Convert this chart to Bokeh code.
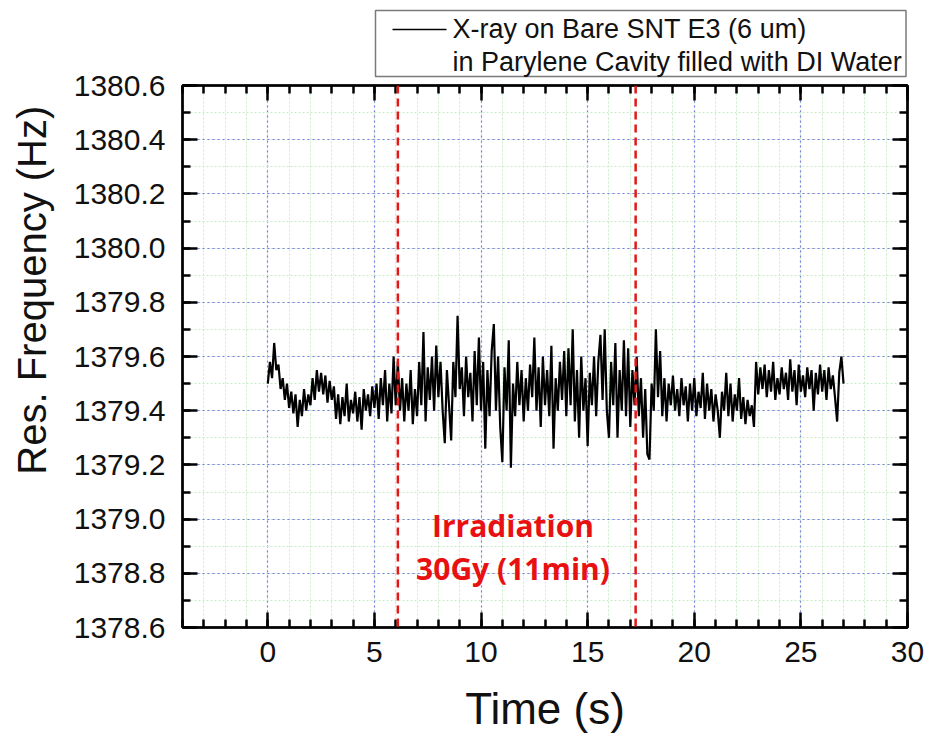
import numpy as np
from bokeh.plotting import figure
from bokeh.layouts import row, column
from bokeh.models import (Range1d, FixedTicker, LinearAxis, PrintfTickFormatter, Span)
from bokeh.core.properties import value
from bokeh.embed import file_html
from bokeh.resources import INLINE

# ---- data ----
t_step = 0.1
freq_before = [  # t = 0.0 .. 5.9 s
    1379.50, 1379.58, 1379.52, 1379.65, 1379.55, 1379.57, 1379.48, 1379.52, 1379.44, 1379.50,
    1379.41, 1379.47, 1379.39, 1379.46, 1379.34, 1379.44, 1379.38, 1379.48, 1379.40, 1379.46,
    1379.42, 1379.52, 1379.44, 1379.55, 1379.47, 1379.54, 1379.46, 1379.53, 1379.43, 1379.51,
    1379.44, 1379.49, 1379.37, 1379.46, 1379.35, 1379.45, 1379.38, 1379.50, 1379.36, 1379.44,
    1379.39, 1379.47, 1379.36, 1379.45, 1379.33, 1379.48, 1379.40, 1379.46, 1379.38, 1379.49,
    1379.41, 1379.50, 1379.37, 1379.52, 1379.42, 1379.55, 1379.36, 1379.50, 1379.39, 1379.60,
]
freq_during = [  # t = 6.0 .. 17.2 s
    1379.42, 1379.58, 1379.40, 1379.52, 1379.36, 1379.50, 1379.40, 1379.55, 1379.35, 1379.48,
    1379.38, 1379.58, 1379.42, 1379.69, 1379.36, 1379.56, 1379.44, 1379.60, 1379.40, 1379.64,
    1379.45, 1379.58, 1379.40, 1379.28, 1379.55, 1379.42, 1379.29, 1379.58, 1379.45, 1379.75,
    1379.48, 1379.56, 1379.38, 1379.60, 1379.45, 1379.54, 1379.36, 1379.62, 1379.42, 1379.67,
    1379.40, 1379.58, 1379.26, 1379.55, 1379.38, 1379.62, 1379.72, 1379.40, 1379.60, 1379.34,
    1379.21, 1379.56, 1379.40, 1379.66, 1379.19, 1379.50, 1379.38, 1379.58, 1379.42, 1379.55,
    1379.36, 1379.52, 1379.40, 1379.57, 1379.45, 1379.67, 1379.40, 1379.56, 1379.34, 1379.60,
    1379.42, 1379.55, 1379.38, 1379.64, 1379.26, 1379.52, 1379.40, 1379.58, 1379.44, 1379.62,
    1379.38, 1379.63, 1379.42, 1379.70, 1379.36, 1379.55, 1379.30, 1379.60, 1379.40, 1379.52,
    1379.27, 1379.54, 1379.42, 1379.60, 1379.38, 1379.58, 1379.68, 1379.44, 1379.70, 1379.40,
    1379.30, 1379.58, 1379.42, 1379.65, 1379.30, 1379.55, 1379.40, 1379.66, 1379.38, 1379.63,
    1379.34, 1379.55, 1379.42,
]
freq_after = [  # t = 17.3 .. 27.0 s
    1379.60, 1379.38, 1379.52, 1379.30, 1379.48, 1379.24, 1379.22, 1379.50, 1379.40, 1379.70,
    1379.45, 1379.62, 1379.38, 1379.52, 1379.36, 1379.50, 1379.42, 1379.53, 1379.40, 1379.48,
    1379.38, 1379.52, 1379.42, 1379.49, 1379.36, 1379.50, 1379.40, 1379.52, 1379.38, 1379.47,
    1379.41, 1379.54, 1379.37, 1379.50, 1379.40, 1379.48, 1379.36, 1379.46, 1379.40, 1379.30,
    1379.47, 1379.40, 1379.54, 1379.38, 1379.50, 1379.36, 1379.46, 1379.40, 1379.52, 1379.37,
    1379.45, 1379.35, 1379.44, 1379.38, 1379.42, 1379.34, 1379.58, 1379.46, 1379.56, 1379.48,
    1379.57, 1379.45, 1379.55, 1379.47, 1379.58, 1379.44, 1379.52, 1379.46, 1379.56, 1379.48,
    1379.54, 1379.44, 1379.59, 1379.47, 1379.55, 1379.42, 1379.57, 1379.47, 1379.53, 1379.45,
    1379.56, 1379.48, 1379.55, 1379.40, 1379.54, 1379.46, 1379.57, 1379.47, 1379.55, 1379.44,
    1379.56, 1379.48, 1379.53, 1379.45, 1379.36, 1379.54, 1379.60, 1379.50,
]
irradiation_start = 6.1
irradiation_end = 17.25
x_ticks = [0, 5, 10, 15, 20, 25, 30]
y_ticks = [1378.6, 1378.8, 1379.0, 1379.2, 1379.4, 1379.6, 1379.8, 1380.0, 1380.2, 1380.4, 1380.6]
legend_line1 = "X-ray on Bare SNT E3 (6 um)"
legend_line2 = "in Parylene Cavity filled with DI Water"
note_line1 = "Irradiation"
note_line2 = "30Gy (11min)"
x_label = "Time (s)"
y_label = "Res. Frequency (Hz)"

freq = freq_before + freq_during + freq_after
time = np.arange(len(freq)) * t_step

FONT = "Liberation Sans"
BLUE_GRID = "#7a7ae0"
GREEN_GRID = "#c6ecc6"
RED = "#e81010"
TXT = "#111111"

W, H = 935, 736
SIDE_W = 60          # strip holding the y-axis title
YAX_W = 121          # strip holding the y tick labels
MAIN_W = W - SIDE_W - YAX_W
HEAD_H = 80          # strip holding the legend
FRAME_TOP, FRAME_BOTTOM_BORDER = 85, 109
RIGHT_BORDER = 28

y_range = Range1d(1378.6, 1380.6)
x_minor = list(np.round(np.arange(-4, 31, 1.0), 6))
y_minor = list(np.round(np.arange(1378.6, 1380.65, 0.1), 6))
xt = FixedTicker(ticks=x_ticks, minor_ticks=x_minor)
yt = FixedTicker(ticks=y_ticks, minor_ticks=y_minor)


def bare(fig):
    fig.outline_line_color = None
    fig.grid.visible = False
    fig.background_fill_color = "white"
    fig.border_fill_color = "white"


# ---------- y-axis title strip (pixel coordinates) ----------
side = figure(width=SIDE_W, height=H, output_backend="svg", toolbar_location=None,
              x_range=Range1d(0, SIDE_W), y_range=Range1d(0, H),
              min_border=0, x_axis_location=None, y_axis_location=None)
bare(side)
side.text(x=[31], y=[H - 278], text=[y_label], angle=np.pi / 2,
          text_font=value(FONT), text_font_size="40px", text_color=TXT,
          text_align="center", text_baseline="middle")

# ---------- y tick-label strip (shares the y range) ----------
yfig = figure(width=YAX_W, height=H, output_backend="svg", toolbar_location=None,
              x_range=Range1d(0, 1), y_range=y_range,
              min_border_left=YAX_W - 1, min_border_right=0, min_border_top=FRAME_TOP,
              min_border_bottom=FRAME_BOTTOM_BORDER, x_axis_location=None, y_axis_location=None)
bare(yfig)
yax = LinearAxis(ticker=yt, formatter=PrintfTickFormatter(format="%.1f"))
yax.axis_line_color = None
yax.major_tick_line_color = None
yax.minor_tick_line_color = None
yax.major_tick_in = 0
yax.major_tick_out = 0
yax.minor_tick_in = 0
yax.minor_tick_out = 0
yax.major_label_text_font = FONT
yax.major_label_text_font_size = "30px"
yax.major_label_text_color = TXT
yax.major_label_standoff = 15
yfig.add_layout(yax, "left")

# ---------- legend strip (pixel coordinates, y downward) ----------
# its frame is aligned with the main frame (local x 1 .. MAIN_W - RIGHT_BORDER)
ox = SIDE_W + YAX_W
head = figure(width=MAIN_W, height=HEAD_H, output_backend="svg", toolbar_location=None,
              x_range=Range1d(1, MAIN_W - RIGHT_BORDER), y_range=Range1d(HEAD_H, 0),
              min_border=0, x_axis_location=None, y_axis_location=None)
bare(head)
head.quad(left=[375 - ox], right=[MAIN_W - RIGHT_BORDER - 1.5], top=[10], bottom=[76],
          fill_color="white", line_color="#7a7a7a", line_width=1.5)
head.segment(x0=[392 - ox], y0=[29], x1=[446 - ox], y1=[29], line_color="black", line_width=1.5)
head.text(x=[452 - ox, 452 - ox], y=[28, 61], text=[legend_line1, legend_line2],
          text_font=value(FONT), text_font_size="27px", text_color=TXT,
          text_align="left", text_baseline="middle")

# ---------- main plot ----------
p = figure(width=MAIN_W, height=H - HEAD_H, output_backend="svg", toolbar_location=None,
           x_range=Range1d(-4, 30), y_range=y_range,
           min_border_left=1, min_border_right=RIGHT_BORDER, min_border_top=FRAME_TOP - HEAD_H,
           min_border_bottom=FRAME_BOTTOM_BORDER, x_axis_location=None, y_axis_location=None)
p.outline_line_color = "black"
p.outline_line_width = 2
p.background_fill_color = "white"
p.border_fill_color = "white"


def style_axis(ax, show_labels):
    ax.axis_line_color = "black"
    ax.axis_line_width = 2.5
    ax.major_tick_in = 15
    ax.major_tick_out = 0
    ax.minor_tick_in = 8
    ax.minor_tick_out = 0
    ax.major_tick_line_width = 2.5
    ax.minor_tick_line_width = 2.5
    ax.major_tick_line_color = "black"
    ax.minor_tick_line_color = "black"
    ax.major_label_text_font = FONT
    ax.major_label_text_color = TXT
    ax.axis_label_text_font = FONT
    ax.axis_label_text_font_style = "normal"
    ax.axis_label_text_color = TXT
    if not show_labels:
        ax.major_label_text_font_size = "0px"
        ax.major_label_text_alpha = 0
        ax.major_label_standoff = 0


bottom = LinearAxis(ticker=xt, axis_label=x_label)
style_axis(bottom, True)
bottom.major_label_text_font_size = "30px"
bottom.major_label_standoff = 14
bottom.axis_label_text_font_size = "44px"
bottom.axis_label_standoff = 19
p.add_layout(bottom, "below")

for side_name, tk in (("left", yt), ("above", xt), ("right", yt)):
    ax = LinearAxis(ticker=tk)
    style_axis(ax, False)
    p.add_layout(ax, side_name)

p.xgrid.ticker = xt
p.ygrid.ticker = yt
for g in (p.xgrid, p.ygrid):
    g.grid_line_color = BLUE_GRID
    g.grid_line_dash = "2 3"
    g.grid_line_width = 1.2
    g.minor_grid_line_color = GREEN_GRID
    g.minor_grid_line_dash = "2 2"
    g.minor_grid_line_width = 1

p.line(time, freq, line_color="black", line_width=2.2)

for loc in (irradiation_start, irradiation_end):
    p.add_layout(Span(location=loc, dimension="height", line_color="#e01818",
                      line_width=2.5, line_dash="8 5"))

p.text(x=[11.5, 11.5], y=[1378.976, 1378.818], text=[note_line1, note_line2],
       text_font=value("Open Sans"), text_font_style="bold", text_font_size="30px",
       text_color=RED, text_align="center", text_baseline="middle")

layout = row(side, yfig, column(head, p, spacing=0), spacing=0)
open("out.html", "w").write(file_html(layout, INLINE))
